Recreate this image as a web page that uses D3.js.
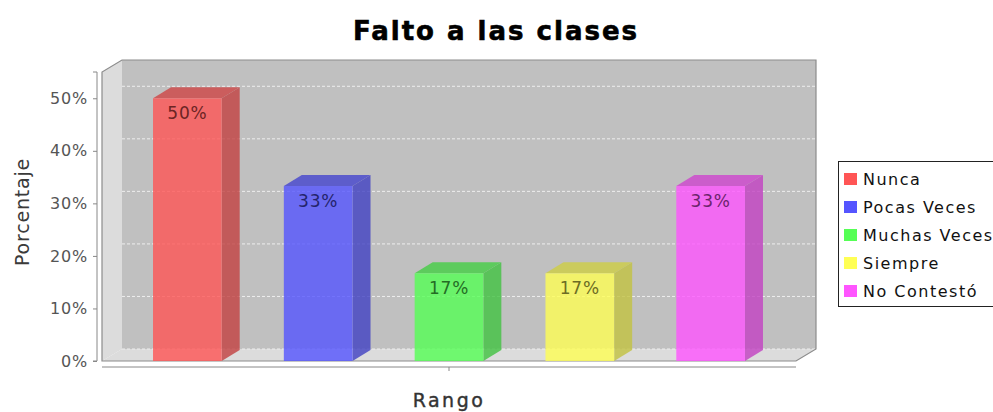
<!DOCTYPE html>
<html>
<head>
<meta charset="utf-8">
<script src="https://cdn.jsdelivr.net/npm/d3@7"></script>
<style>
  body { margin: 0; background: #fff; }
  svg { display: block; font-family: "DejaVu Sans", Verdana, sans-serif; }
</style>
</head>
<body>
<svg width="993" height="412"></svg>
<script>
// chart data
const series = ["Nunca", "Pocas Veces", "Muchas Veces", "Siempre", "No Contestó"];
const values = [50, 33.3, 16.7, 16.7, 33.3];
const yTicks = [0, 10, 20, 30, 40, 50];
const colors = ["#ff5555", "#5555ff", "#55ff55", "#ffff55", "#ff55ff"];

const svg = d3.select("svg");

// front plane of plot + 3d offsets
const pL = 102, pR = 796, pT = 72, pB = 361;
const dx = 20, dy = 12;     // wall depth
const bdx = 18, bdy = 11;   // bar depth

const y = d3.scaleLinear().domain([0, 55]).range([pB, pT]);
const x = d3.scaleBand().domain(series).range([pL, pR])
    .paddingInner(0.475).paddingOuter(0.39);

const poly = pts => "M" + pts.map(p => p.join(",")).join("L") + "Z";

// walls
const walls = svg.append("g");
walls.append("path")
    .attr("d", poly([[pL + dx, pT - dy], [pR + dx, pT - dy], [pR + dx, pB - dy], [pL + dx, pB - dy]]))
    .attr("fill", "#c0c0c0");
walls.append("path")
    .attr("d", poly([[pL, pB], [pL, pT], [pL + dx, pT - dy], [pL + dx, pB - dy]]))
    .attr("fill", "#dcdcdc");
walls.append("path")
    .attr("d", poly([[pL, pB], [pL + dx, pB - dy], [pR + dx, pB - dy], [pR, pB]]))
    .attr("fill", "#dcdcdc");

// gridlines on back wall
walls.selectAll(".grid")
    .data(yTicks)
    .enter()
    .append("line")
    .attr("class", "grid")
    .attr("x1", pL + dx)
    .attr("x2", pR + dx)
    .attr("y1", d => y(d) - dy)
    .attr("y2", d => y(d) - dy)
    .attr("stroke", "#eeeeee")
    .attr("stroke-width", 1)
    .attr("stroke-dasharray", "3,2");

// outline
walls.append("path")
    .attr("d", poly([[pL, pB], [pL, pT], [pL + dx, pT - dy], [pR + dx, pT - dy], [pR + dx, pB - dy], [pR, pB]]))
    .attr("fill", "none")
    .attr("stroke", "#8c8c8c")
    .attr("stroke-width", 1.2);

// bars
const barData = series.map((s, i) => ({ s: s, v: values[i], c: colors[i] }));
const bars = svg.append("g").selectAll(".bar")
    .data(barData)
    .enter()
    .append("g")
    .attr("class", "bar")
    .attr("opacity", 0.8);

bars.append("path")
    .attr("d", d => {
        const x0 = x(d.s), x1 = x0 + x.bandwidth(), yt = y(d.v);
        return poly([[x1, yt], [x1 + bdx, yt - bdy], [x1 + bdx, pB - bdy], [x1, pB]]);
    })
    .attr("fill", d => d3.color(d.c).darker(0.75));
bars.append("path")
    .attr("d", d => {
        const x0 = x(d.s), x1 = x0 + x.bandwidth(), yt = y(d.v);
        return poly([[x0, yt], [x0 + bdx, yt - bdy], [x1 + bdx, yt - bdy], [x1, yt]]);
    })
    .attr("fill", d => d3.color(d.c).darker(0.6));
bars.append("rect")
    .attr("x", d => x(d.s))
    .attr("y", d => y(d.v))
    .attr("width", x.bandwidth())
    .attr("height", d => pB - y(d.v))
    .attr("fill", d => d.c);

// item labels
svg.append("g").selectAll(".lbl")
    .data(barData)
    .enter()
    .append("text")
    .attr("class", "lbl")
    .attr("x", d => x(d.s) + x.bandwidth() / 2)
    .attr("y", d => y(d.v) + 21)
    .attr("text-anchor", "middle")
    .attr("font-size", 17)
    .attr("letter-spacing", 0.8)
    .attr("fill", d => d3.color(d.c).darker(2.4))
    .text(d => d3.format(".0f")(d.v) + "%");

// value axis
const yAxis = svg.append("g")
    .attr("transform", `translate(${pL - 5},0)`)
    .call(d3.axisLeft(y).tickValues(yTicks).tickSize(4).tickPadding(5).tickFormat(d => d + "%"));
yAxis.select(".domain").attr("stroke", "#888").attr("d", `M-4,${pT}H0V${pB}H-4`);
yAxis.selectAll(".tick line").attr("stroke", "#888");
yAxis.selectAll(".tick text")
    .attr("font-size", 16)
    .attr("letter-spacing", 0.8)
    .attr("fill", "#555")
    .attr("font-family", "DejaVu Sans, sans-serif");

// category axis
const xc = d3.scaleBand().domain(["Rango"]).range([pL, pR]);
const xAxis = svg.append("g")
    .attr("transform", `translate(0,${pB + 6})`)
    .call(d3.axisBottom(xc).tickSize(4).tickFormat(""));
xAxis.select(".domain").attr("stroke", "#888").attr("d", `M${pL},0H${pR}`);
xAxis.selectAll(".tick line").attr("stroke", "#888");

// titles
svg.append("text")
    .attr("x", 496)
    .attr("y", 40)
    .attr("text-anchor", "middle")
    .attr("font-size", 26)
    .attr("font-weight", "bold")
    .attr("letter-spacing", 2)
    .attr("fill", "#000")
    .attr("stroke", "#000")
    .attr("stroke-width", 0.6)
    .text("Falto a las clases");

svg.append("text")
    .attr("x", (pL + pR) / 2)
    .attr("y", 407)
    .attr("text-anchor", "middle")
    .attr("font-size", 19)
    .attr("letter-spacing", 2.5)
    .attr("fill", "#333")
    .attr("stroke", "#333")
    .attr("stroke-width", 0.4)
    .text("Rango");

svg.append("text")
    .attr("transform", "translate(29,212) rotate(-90)")
    .attr("text-anchor", "middle")
    .attr("font-size", 19)
    .attr("letter-spacing", 0.8)
    .attr("fill", "#3a3a3a")
    .text("Porcentaje");

// legend
const legend = svg.append("g");
legend.append("rect")
    .attr("x", 838.5).attr("y", 161.5)
    .attr("width", 170).attr("height", 145)
    .attr("fill", "#fff").attr("stroke", "#222");
const li = legend.selectAll(".li")
    .data(series)
    .enter()
    .append("g")
    .attr("class", "li")
    .attr("transform", (d, i) => `translate(844,${179 + i * 28})`);
li.append("rect")
    .attr("x", 0).attr("y", -6)
    .attr("width", 13).attr("height", 12)
    .attr("fill", (d, i) => colors[i]);
li.append("text")
    .attr("x", 19)
    .attr("y", 6)
    .attr("font-size", 16)
    .attr("letter-spacing", 1.5)
    .attr("fill", "#111")
    .text(d => d);
</script>
</body>
</html>
